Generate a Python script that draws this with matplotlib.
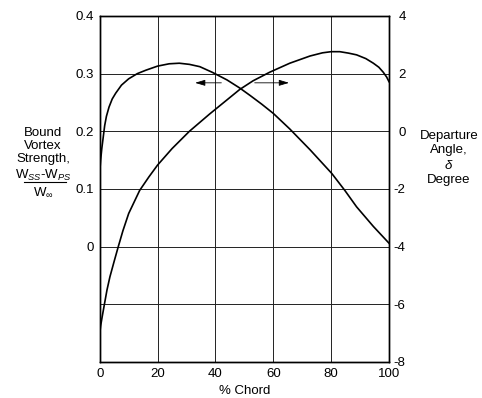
import matplotlib.pyplot as plt
from matplotlib.lines import Line2D

plt.rcParams['font.family'] = ['Liberation Sans', 'DejaVu Sans']
plt.rcParams['mathtext.fontset'] = 'custom'
plt.rcParams['mathtext.rm'] = 'Liberation Sans'
plt.rcParams['mathtext.it'] = 'Liberation Sans:italic'

# bound vortex strength (left axis)
chord_bv = [0, 0.3, 0.7, 1.2, 1.7, 2.3, 3.2, 4.3, 5.5, 7.5, 10, 13, 16, 20, 24, 27.5, 31, 34.6, 39,
            44, 48.4, 52, 56, 60, 65.7, 72.7, 80.2, 84.8, 88.8, 94.6, 100]
bound_vortex = [0.13, 0.15, 0.17, 0.19, 0.21, 0.226, 0.242, 0.256, 0.266, 0.28, 0.291, 0.300, 0.306,
                0.313, 0.317, 0.318, 0.316, 0.312, 0.302, 0.289, 0.275, 0.262, 0.247, 0.231, 0.204,
                0.168, 0.127, 0.097, 0.069, 0.035, 0.006]

# departure angle, degree (right axis)
chord_da = [0, 0.3, 0.8, 1.6, 2.5, 3.5, 5, 6.4, 8, 10, 13.8, 17, 20, 25, 31, 38, 44, 48.4, 53, 58.8,
            65.7, 72.7, 77, 80, 83, 86, 88.8, 92, 94.6, 96.5, 98, 99.2, 100]
departure = [-7.0, -6.75, -6.45, -6.0, -5.5, -5.05, -4.5, -4.0, -3.45, -2.85, -2.05, -1.58, -1.17,
             -0.6, 0.0, 0.6, 1.09, 1.45, 1.75, 2.05, 2.36, 2.61, 2.72, 2.76, 2.76, 2.71, 2.65, 2.52,
             2.36, 2.22, 2.05, 1.88, 1.72]

x_ticks = [0, 20, 40, 60, 80, 100]
left_ticks = [-0.2, -0.1, 0, 0.1, 0.2, 0.3, 0.4]
left_labels = ['', '', '0', '0.1', '0.2', '0.3', '0.4']
right_ticks = [-8, -6, -4, -2, 0, 2, 4]

fs = 9.5

fig = plt.figure(figsize=(4.82, 3.98), dpi=100)
ax = fig.add_axes([0.207, 0.0905, 0.600, 0.8695])
ax2 = ax.twinx()

ax.plot(chord_bv, bound_vortex, color='black', lw=1.2)
ax2.plot(chord_da, departure, color='black', lw=1.2)

ax.set_xlim(0, 100)
ax.set_ylim(-0.2, 0.4)
ax2.set_ylim(-8, 4)
ax.set_xticks(x_ticks)
ax.set_yticks(left_ticks)
ax.set_yticklabels(left_labels)
ax2.set_yticks(right_ticks)
ax2.set_yticklabels([str(t) for t in right_ticks])
ax.grid(True, color='#222222', lw=0.7)
ax.tick_params(length=0, labelsize=fs, pad=4)
ax2.tick_params(length=0, labelsize=fs, pad=12)
for lbl in ax2.get_yticklabels():
    lbl.set_horizontalalignment('right')
for a in (ax, ax2):
    for s in a.spines.values():
        s.set_linewidth(1.0)
ax.set_xlabel('% Chord', fontsize=fs, labelpad=4)

# arrows pointing to the axis of each curve
arr = dict(arrowstyle='-|>,head_length=0.6,head_width=0.18', color='black', lw=0.6)
ax.annotate('', xy=(32, 0.284), xytext=(43, 0.284), arrowprops=arr)
ax.annotate('', xy=(66.4, 0.284), xytext=(52.6, 0.284), arrowprops=arr)

# left axis title
fig.text(0.089, 1 - 146 / 398, 'Bound\nVortex\nStrength,', ha='center', va='center',
         fontsize=fs, linespacing=1.15)
fig.text(0.089, 1 - 175 / 398, r'W$_{\mathit{SS}}$-W$_{\mathit{PS}}$', ha='center', va='center', fontsize=fs)
fig.add_artist(Line2D([24 / 482, 66 / 482], [1 - 182 / 398, 1 - 182 / 398], color='black', lw=0.8))
fig.text(0.089, 1 - 192 / 398, r'W$_{\infty}$', ha='center', va='center', fontsize=fs)

# right axis title
fig.text(449 / 482, 1 - 158 / 398, 'Departure\nAngle,\n$\\delta$\nDegree', ha='center', va='center',
         fontsize=fs, linespacing=1.25)

fig.savefig('out.png', dpi=100)
